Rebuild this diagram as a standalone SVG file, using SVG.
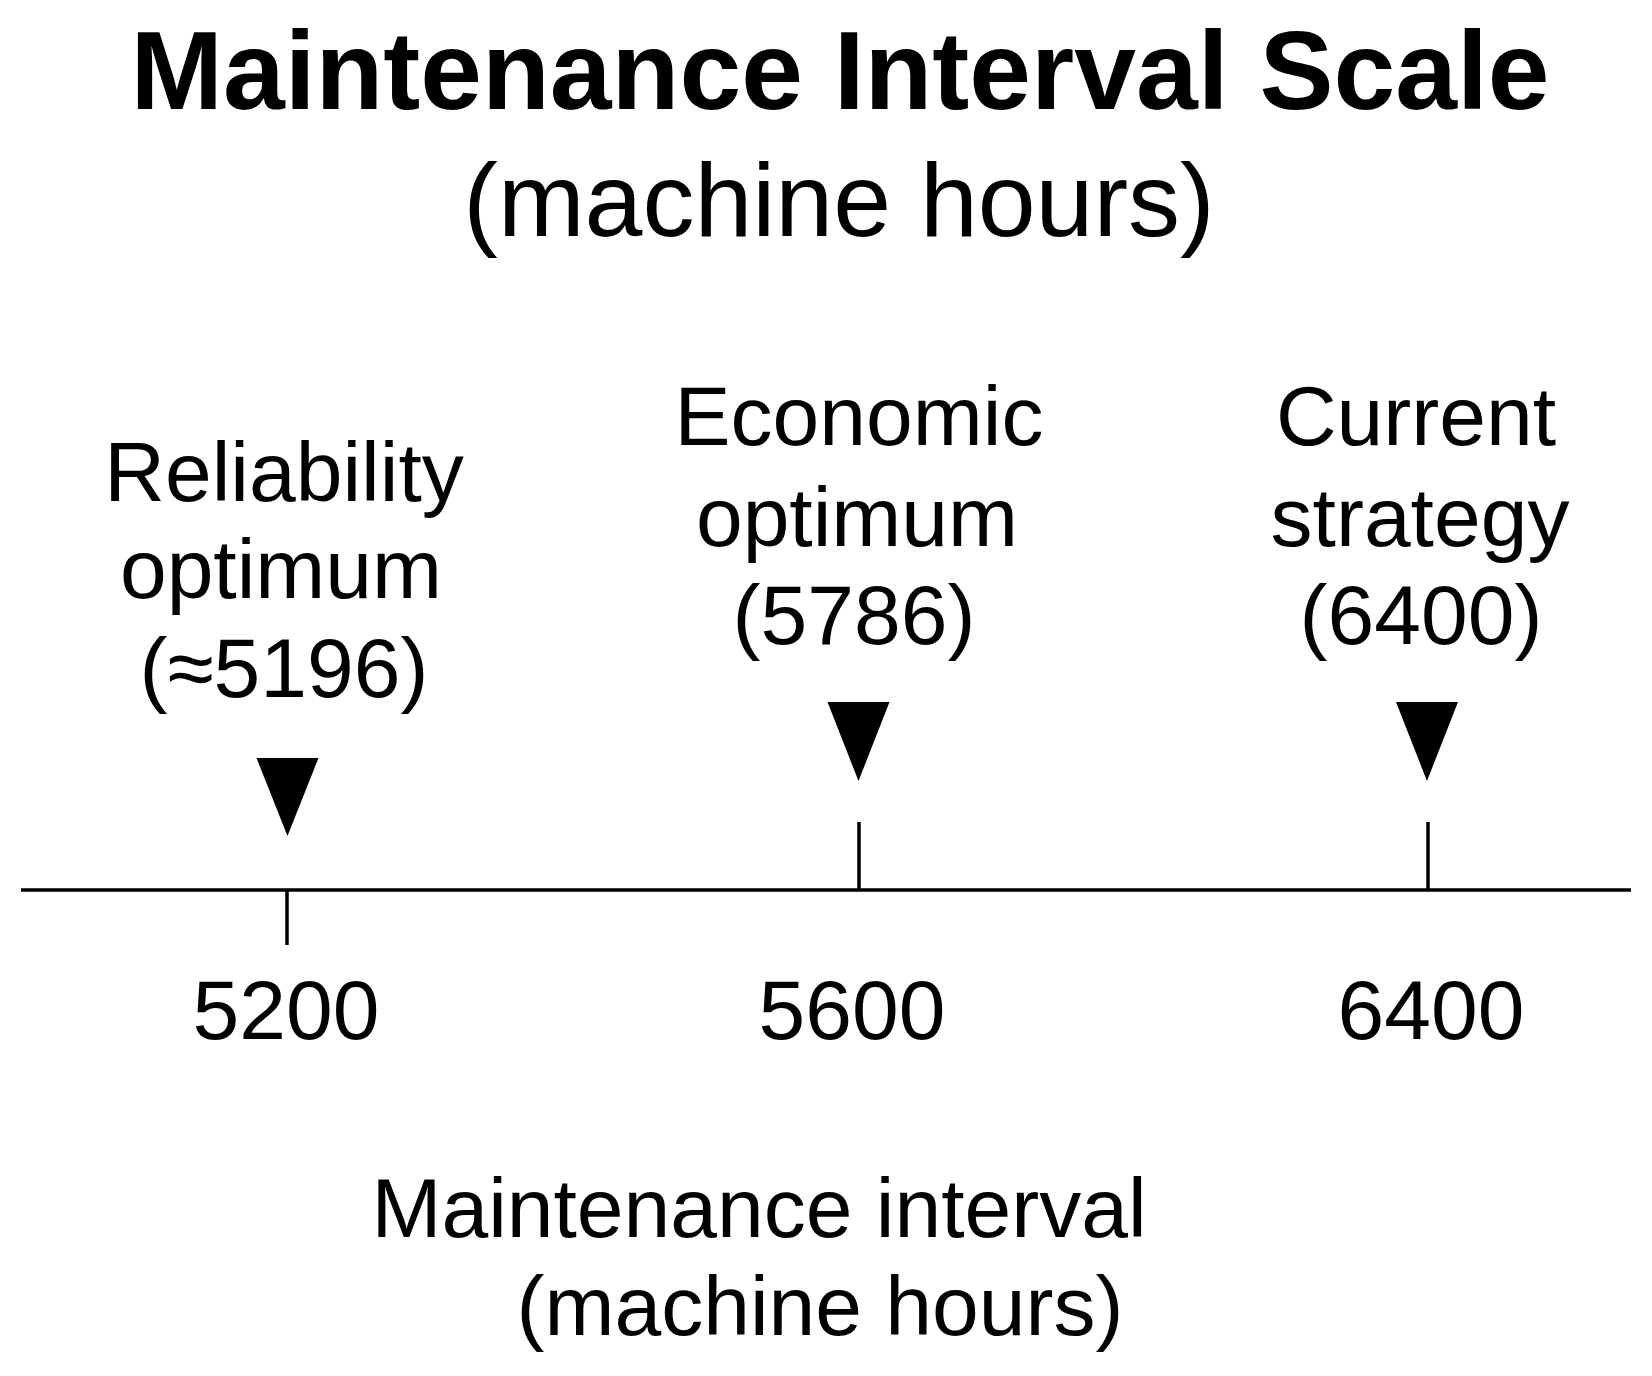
<svg xmlns="http://www.w3.org/2000/svg" width="1652" height="1376" viewBox="0 0 1652 1376">
  <style>
    text { font-family: "Liberation Sans", Arial, Helvetica, sans-serif; fill: #000; text-anchor: middle; }
    .title { font-size: 111px; font-weight: bold; }
    .sub { font-size: 104px; }
    .lbl { font-size: 84px; }
    .tick { stroke: #000; stroke-width: 3.5; fill: none; }
    .axis { stroke: #000; stroke-width: 3.5; fill: none; }
    .mark { fill: #000; stroke: none; }
  </style>
  <rect width="1652" height="1376" fill="#fff"/>

  <g id="title">
    <text class="title" x="840" y="109">Maintenance Interval Scale</text>
    <text class="sub" x="839" y="236">(machine hours)</text>
  </g>

  <g id="connectors">
    <line id="axis-line" class="axis" x1="21" y1="890" x2="1631" y2="890"/>
    <line class="tick" x1="287" y1="890" x2="287" y2="945"/>
    <line class="tick" x1="859" y1="822" x2="859" y2="890"/>
    <line class="tick" x1="1428" y1="822" x2="1428" y2="890"/>
  </g>

  <g id="reliability-optimum">
    <text class="lbl" x="284" y="501">Reliability</text>
    <text class="lbl" x="281" y="598">optimum</text>
    <text class="lbl" x="284" y="697">(≈5196)</text>
    <polygon class="mark" points="256.5,758 318.5,758 287.5,836"/>
  </g>

  <g id="economic-optimum">
    <text class="lbl" x="859" y="445">Economic</text>
    <text class="lbl" x="857" y="546">optimum</text>
    <text class="lbl" x="854" y="644">(5786)</text>
    <polygon class="mark" points="827.5,702 889.5,702 858.5,781"/>
  </g>

  <g id="current-strategy">
    <text class="lbl" x="1416" y="445">Current</text>
    <text class="lbl" x="1420" y="546">strategy</text>
    <text class="lbl" x="1421" y="644">(6400)</text>
    <polygon class="mark" points="1396,702 1458,702 1427,781"/>
  </g>

  <g id="tick-labels">
    <text class="lbl" x="286" y="1039">5200</text>
    <text class="lbl" x="852" y="1039">5600</text>
    <text class="lbl" x="1431" y="1039">6400</text>
  </g>

  <g id="axis-title">
    <text class="lbl" x="759" y="1237">Maintenance interval</text>
    <text class="lbl" x="820" y="1335">(machine hours)</text>
  </g>
</svg>
